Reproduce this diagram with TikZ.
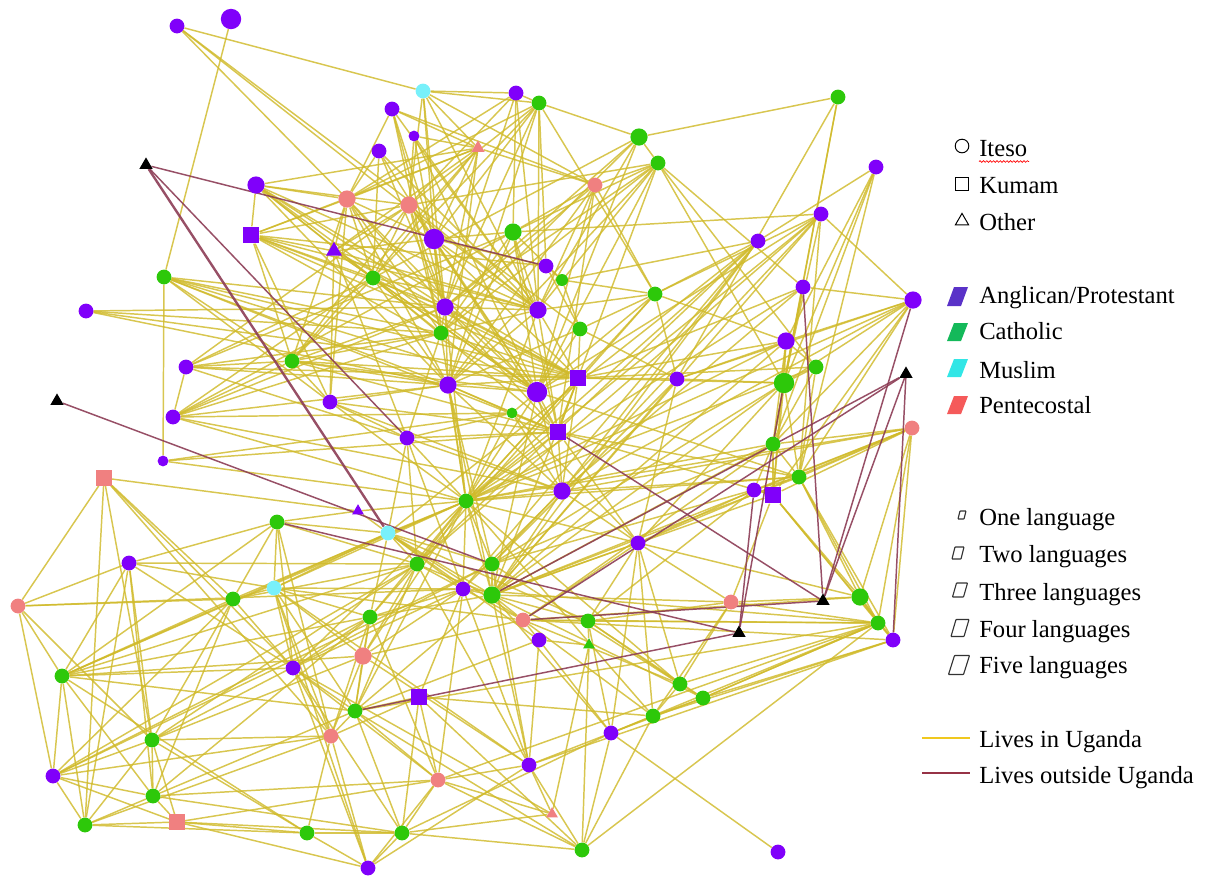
\documentclass[tikz,border=0pt]{standalone}
\usepackage{fontspec}
\setmainfont{Liberation Serif}
\usetikzlibrary{shapes.geometric,decorations.pathmorphing}
\definecolor{purp}{RGB}{128,0,250}
\definecolor{grn}{RGB}{45,200,10}
\definecolor{cyn}{RGB}{120,240,250}
\definecolor{pnk}{RGB}{240,128,128}
\definecolor{edgeY}{RGB}{208,186,42}
\definecolor{edgeM}{RGB}{140,60,85}
\definecolor{legY}{RGB}{240,200,30}
\definecolor{legM}{RGB}{150,50,70}
\definecolor{swP}{RGB}{90,50,200}
\definecolor{swG}{RGB}{20,185,90}
\definecolor{swC}{RGB}{50,230,230}
\definecolor{swR}{RGB}{245,90,90}
\pgfdeclarelayer{edges}
\pgfsetlayers{edges,main}
\tikzset{
  dot/.style={circle,inner sep=0pt,draw=none},
  sm/.style={dot,minimum size=0.27cm},
  md/.style={dot,minimum size=0.37cm},
  lg/.style={dot,minimum size=0.43cm},
  xl/.style={dot,minimum size=0.51cm},
  sqr/.style={rectangle,inner sep=0pt,draw=none,minimum size=0.42cm},
  tri/.style={regular polygon,regular polygon sides=3,inner sep=0pt,draw=none,minimum size=0.46cm},
  stri/.style={tri,minimum size=0.38cm},
  ye/.style={draw=edgeY,line width=1.05pt,opacity=0.82},
  me/.style={draw=edgeM,line width=1.05pt,opacity=0.9},
  lab/.style={anchor=base west,inner sep=0pt,font=\fontsize{17.5}{20}\selectfont},
  keyshape/.style={draw=black,line width=0.7pt,inner sep=0pt},
  langkey/.style={draw=black!80,line width=0.8pt,rounded corners=0.4pt},
}
\begin{document}
\begin{tikzpicture}[x=0.025cm,y=-0.025cm]
\useasboundingbox (0,0) rectangle (1216,876);

% ---- people ----
\node[md,fill=purp] (n1) at (177,26) {};
\node[xl,fill=purp] (n2) at (231,19) {};
\node[md,fill=cyn] (n3) at (423,91) {};
\node[md,fill=purp] (n4) at (392,109) {};
\node[sm,fill=purp] (n5) at (414,136) {};
\node[md,fill=purp] (n6) at (379,151) {};
\node[md,fill=purp] (n7) at (516,93) {};
\node[md,fill=grn] (n8) at (539,103) {};
\node[stri,fill=pnk] (n9) at (478,148) {};
\node[lg,fill=grn] (n10) at (639,137) {};
\node[md,fill=grn] (n11) at (658,163) {};
\node[md,fill=grn] (n12) at (838,97) {};
\node[md,fill=purp] (n13) at (876,167) {};
\node[md,fill=pnk] (n14) at (595,185) {};
\node[stri,fill=black] (n15) at (146,165) {};
\node[lg,fill=purp] (n16) at (256,185) {};
\node[lg,fill=pnk] (n17) at (347,199) {};
\node[lg,fill=pnk] (n18) at (409,205) {};
\node[sqr,fill=purp] (n19) at (251,235) {};
\node[tri,fill=purp] (n20) at (334,251) {};
\node[xl,fill=purp] (n21) at (434,239) {};
\node[lg,fill=grn] (n22) at (513,232) {};
\node[md,fill=purp] (n23) at (546,266) {};
\node[sm,fill=grn,minimum size=0.3cm] (n24) at (562,280) {};
\node[md,fill=purp] (n25) at (758,241) {};
\node[md,fill=purp] (n26) at (821,214) {};
\node[md,fill=grn] (n27) at (164,277) {};
\node[md,fill=grn] (n28) at (373,278) {};
\node[lg,fill=purp] (n29) at (445,307) {};
\node[lg,fill=purp] (n30) at (538,310) {};
\node[md,fill=grn] (n31) at (441,333) {};
\node[md,fill=grn] (n32) at (580,329) {};
\node[md,fill=grn] (n33) at (655,294) {};
\node[md,fill=purp] (n34) at (803,287) {};
\node[lg,fill=purp] (n35) at (913,300) {};
\node[md,fill=purp] (n36) at (86,311) {};
\node[md,fill=grn] (n37) at (292,361) {};
\node[md,fill=purp] (n38) at (186,367) {};
\node[md,fill=purp] (n39) at (330,402) {};
\node[lg,fill=purp] (n40) at (448,385) {};
\node[xl,fill=purp] (n41) at (537,392) {};
\node[sqr,fill=purp] (n42) at (578,378) {};
\node[md,fill=purp] (n43) at (677,379) {};
\node[lg,fill=purp] (n44) at (786,341) {};
\node[md,fill=grn] (n45) at (816,367) {};
\node[xl,fill=grn] (n46) at (784,383) {};
\node[stri,fill=black] (n47) at (906,374) {};
\node[stri,fill=black] (n48) at (57,401) {};
\node[md,fill=purp] (n49) at (173,417) {};
\node[sm,fill=purp] (n50) at (163,461) {};
\node[md,fill=purp] (n51) at (407,438) {};
\node[sm,fill=grn] (n52) at (512,413) {};
\node[sqr,fill=purp] (n53) at (558,432) {};
\node[md,fill=grn] (n54) at (773,444) {};
\node[md,fill=pnk] (n55) at (912,428) {};
\node[sqr,fill=pnk,minimum size=0.38cm] (n56) at (104,478) {};
\node[lg,fill=purp] (n57) at (562,491) {};
\node[md,fill=grn] (n58) at (799,477) {};
\node[md,fill=purp] (n59) at (754,490) {};
\node[sqr,fill=purp] (n60) at (773,495) {};
\node[stri,fill=purp,minimum size=0.34cm] (n61) at (358,511) {};
\node[md,fill=grn] (n62) at (466,501) {};
\node[md,fill=cyn] (n63) at (388,533) {};
\node[md,fill=grn] (n64) at (277,522) {};
\node[md,fill=purp] (n65) at (638,543) {};
\node[md,fill=purp] (n66) at (129,563) {};
\node[md,fill=pnk] (n67) at (18,606) {};
\node[md,fill=cyn] (n68) at (274,588) {};
\node[md,fill=grn] (n69) at (233,599) {};
\node[md,fill=grn] (n70) at (417,564) {};
\node[md,fill=purp] (n71) at (463,589) {};
\node[lg,fill=grn] (n72) at (492,595) {};
\node[md,fill=pnk] (n73) at (523,620) {};
\node[md,fill=grn] (n74) at (588,621) {};
\node[stri,fill=grn,minimum size=0.34cm] (n75) at (589,645) {};
\node[md,fill=purp] (n76) at (539,640) {};
\node[md,fill=pnk] (n77) at (731,602) {};
\node[stri,fill=black] (n78) at (823,601) {};
\node[stri,fill=black] (n79) at (739,633) {};
\node[lg,fill=grn] (n80) at (860,597) {};
\node[md,fill=grn] (n81) at (878,623) {};
\node[md,fill=purp] (n82) at (893,640) {};
\node[md,fill=grn] (n83) at (370,617) {};
\node[lg,fill=pnk] (n84) at (363,656) {};
\node[md,fill=purp] (n85) at (293,668) {};
\node[md,fill=grn] (n86) at (62,676) {};
\node[sqr,fill=purp,minimum size=0.38cm] (n87) at (419,697) {};
\node[md,fill=grn] (n88) at (355,711) {};
\node[md,fill=pnk] (n89) at (331,736) {};
\node[md,fill=grn] (n90) at (152,740) {};
\node[md,fill=purp] (n91) at (53,776) {};
\node[md,fill=grn] (n92) at (153,796) {};
\node[md,fill=grn] (n93) at (85,825) {};
\node[sqr,fill=pnk,minimum size=0.38cm] (n94) at (177,822) {};
\node[md,fill=grn] (n95) at (307,833) {};
\node[md,fill=purp] (n96) at (368,868) {};
\node[md,fill=grn] (n97) at (402,833) {};
\node[md,fill=pnk] (n98) at (438,780) {};
\node[md,fill=purp] (n99) at (529,765) {};
\node[stri,fill=pnk,minimum size=0.34cm] (n100) at (552,814) {};
\node[md,fill=grn] (n101) at (582,850) {};
\node[md,fill=purp] (n102) at (611,733) {};
\node[md,fill=grn] (n103) at (653,716) {};
\node[md,fill=grn] (n104) at (680,684) {};
\node[md,fill=grn] (n105) at (703,698) {};
\node[md,fill=purp] (n106) at (778,852) {};
\node[md,fill=grn] (n107) at (492,564) {};

% ---- ties ----
\begin{pgfonlayer}{edges}
\foreach \a/\b in {
1/3,1/30,1/32,1/41,2/27,
3/7,3/8,3/9,3/18,3/21,3/29,3/14,3/30,
4/9,4/17,4/14,4/31,4/21,4/29,4/30,
5/18,5/9,5/30,5/41,5/29,
6/17,6/21,6/28,6/29,6/30,
7/8,7/17,7/18,7/22,7/29,7/30,
8/10,8/17,8/18,8/21,8/28,8/29,8/30,8/23,8/33,8/40,
9/16,9/17,9/19,9/20,9/21,9/28,9/29,9/14,9/37,9/40,
10/12,10/11,10/31,10/28,10/41,10/30,10/29,
11/14,11/22,11/30,11/31,11/34,11/46,11/45,11/29,11/40,11/18,11/41,11/53,
12/43,12/46,12/54,13/25,13/46,13/54,13/58,13/44,
14/22,14/30,14/41,14/33,14/40,14/29,14/53,
16/17,16/18,16/19,16/29,16/31,16/41,16/28,16/30,16/40,16/42,
17/19,17/20,17/21,17/28,17/37,17/39,17/29,17/31,17/40,
18/19,18/20,18/28,18/29,18/21,18/37,18/38,18/30,18/41,18/31,
19/20,19/28,19/29,19/23,19/39,19/37,19/30,19/41,19/42,
20/21,20/28,20/30,20/39,20/51,20/41,20/42,
21/22,21/23,21/29,21/30,21/31,21/41,21/53,21/42,
22/30,22/24,22/31,22/38,22/49,22/26,22/41,22/40,22/53,
23/24,23/32,24/32,24/33,24/25,
25/33,25/62,25/72,25/70,25/57,25/63,25/71,
26/33,26/62,26/107,26/41,26/70,26/72,26/58,26/46,
27/29,27/31,27/50,27/42,27/37,27/39,27/40,27/41,27/53,
28/38,28/37,28/49,28/41,28/40,28/30,28/42,28/53,
29/30,29/31,29/40,29/41,29/42,29/37,29/53,29/62,
30/31,30/40,30/42,30/53,30/33,30/62,
31/37,31/38,31/49,31/51,31/42,31/62,
32/33,32/42,32/43,32/41,32/40,
33/41,33/43,33/44,33/62,33/70,
34/42,34/35,34/62,34/57,34/46,34/54,
35/46,35/54,35/43,35/44,35/26,35/62,35/57,35/58,35/60,
36/31,36/40,36/29,36/42,
37/39,37/38,37/49,37/41,37/40,37/53,37/42,
38/49,38/42,38/51,38/40,
39/40,39/51,39/62,39/53,39/57,
40/41,40/52,40/53,40/57,40/42,40/107,40/62,40/72,
41/42,41/52,41/53,41/57,41/58,41/62,41/72,
42/43,42/53,42/44,42/46,42/45,42/57,42/62,42/72,
43/46,43/44,43/65,43/72,43/107,
44/46,44/45,44/54,44/60,44/62,44/72,
45/46,45/54,45/58,45/62,
46/54,46/58,46/60,46/72,46/107,46/65,
49/52,49/57,49/29,49/40,49/62,
50/53,50/52,50/62,
51/53,51/57,51/62,51/63,51/70,51/52,51/71,
52/53,52/57,52/62,52/65,
53/57,53/65,53/62,53/58,53/60,
54/58,54/60,54/59,54/62,54/72,54/107,54/73,
55/58,55/59,55/60,55/57,55/65,55/82,55/80,55/81,55/62,55/72,55/54,
56/67,56/93,56/90,56/89,56/61,56/69,56/85,
57/58,57/65,57/62,57/72,57/71,
58/62,58/72,58/107,58/80,58/81,58/82,
59/65,59/60,59/74,
60/80,60/81,60/82,60/77,60/72,
61/63,61/64,61/62,
62/63,62/70,62/72,62/68,62/69,62/107,62/71,62/83,62/84,62/85,62/88,
63/64,63/68,63/70,63/72,63/107,63/71,63/83,63/73,63/74,63/76,
64/66,64/68,64/69,64/85,64/86,64/89,64/70,
65/72,65/73,65/74,65/77,65/103,65/104,65/102,
66/67,66/68,66/86,66/92,66/90,66/70,66/85,66/93,
67/86,67/91,67/90,67/69,67/71,
68/69,68/83,68/84,68/85,68/88,68/89,68/71,68/73,68/96,68/99,
69/86,69/70,69/85,69/90,69/91,69/92,
70/71,70/72,70/83,70/84,70/88,70/90,70/91,
71/72,71/73,71/83,71/84,71/85,71/87,71/98,71/99,
72/73,72/74,72/77,72/107,72/83,72/88,72/102,72/105,
73/74,73/76,73/84,73/103,73/104,
74/75,74/77,74/104,74/105,74/102,
75/76,75/101,75/100,
76/99,76/102,76/88,
77/80,77/81,77/103,77/104,
80/81,80/82,80/73,80/62,
81/82,81/104,81/105,81/101,81/102,81/98,81/73,81/74,81/88,81/71,
82/103,82/105,82/99,82/73,
83/84,83/85,83/86,83/88,83/89,83/92,83/98,
84/86,84/88,84/89,84/90,84/99,
85/86,85/89,85/96,85/97,85/88,85/98,85/100,
86/88,86/91,86/93,86/95,86/92,86/63,86/70,86/62,
87/88,87/89,87/101,87/97,87/98,87/103,
88/89,88/98,88/92,88/97,88/101,
89/93,89/90,89/91,89/96,89/95,
90/91,90/92,90/93,90/94,90/95,90/107,
91/92,91/93,91/94,91/107,91/83,
92/94,92/93,92/97,92/98,
93/94,93/95,
94/95,94/96,94/98,94/97,
95/96,95/97,
96/97,96/98,96/99,
97/101,97/98,97/100,97/102,
98/100,98/101,98/99,
99/100,99/101,99/102,99/70,99/72,99/107,
101/102,101/103,
102/103,102/106,102/105,
103/104,103/105,103/62,
104/105,104/107,104/62,
105/81}
  \draw[ye] (n\a) -- (n\b);
% ties to people living outside Uganda
\foreach \a/\b in {15/23,15/51,48/107,64/79,88/79,53/78,47/72,47/73,47/78,47/82,
                   34/78,35/78,73/78,59/79,46/79}
  \draw[me] (n\a) -- (n\b);
\draw[me,line width=1.7pt] (n15) -- (n63);
\end{pgfonlayer}

% ---- legend: ethnicity ----
\node[keyshape,circle,minimum size=0.34cm] (kIteso) at (962,146) {};
\node[lab] (tIteso) at (979,156) {Iteso};
\draw[red,line width=0.5pt,decorate,decoration={snake,amplitude=0.6pt,segment length=2.4pt}]
  (tIteso.south west) ++(0,5) -- ++(50,0);
\node[keyshape,rectangle,minimum size=0.31cm] (kKumam) at (962,184) {};
\node[lab] (tKumam) at (979,193) {Kumam};
\node[keyshape,regular polygon,regular polygon sides=3,minimum size=0.38cm] (kOther) at (962,221) {};
\node[lab] (tOther) at (979,230) {Other};

% ---- legend: religion ----
\newcommand{\swatch}[3]{\fill[#1] (947,#3) -- (961,#3) -- (968,#2) -- (954,#2) -- cycle;}
\swatch{swP}{287}{306}
\node[lab] (tAng) at (979,303) {Anglican/Protestant};
\swatch{swG}{323}{341}
\node[lab] (tCat) at (979,339) {Catholic};
\swatch{swC}{359}{377}
\node[lab] (tMus) at (979,378) {Muslim};
\swatch{swR}{396}{414}
\node[lab] (tPen) at (979,413) {Pentecostal};

% ---- legend: languages ----
\newcommand{\langkey}[5]{\draw[langkey] (#1-#3/2-#5/2,#2+#4/2) -- (#1+#3/2-#5/2,#2+#4/2) -- (#1+#3/2+#5/2,#2-#4/2) -- (#1-#3/2+#5/2,#2-#4/2) -- cycle;}
\langkey{962}{515}{6}{8}{2}
\node[lab] (tOne) at (979,525) {One language};
\langkey{958}{553}{9}{12}{3}
\node[lab] (tTwo) at (979,562) {Two languages};
\langkey{960}{590}{11}{14}{4}
\node[lab] (tThree) at (979,600) {Three languages};
\langkey{960}{628}{13}{17}{5}
\node[lab] (tFour) at (979,637) {Four languages};
\langkey{959}{665}{15}{19}{6}
\node[lab] (tFive) at (979,673) {Five languages};

% ---- legend: residence ----
\coordinate (yA) at (922,738);
\coordinate (yB) at (970,738);
\draw[legY,line width=1.3pt] (yA) -- (yB);
\node[lab] (tIn) at (979,747) {Lives in Uganda};
\coordinate (mA) at (922,773);
\coordinate (mB) at (970,773);
\draw[legM,line width=1.3pt] (mA) -- (mB);
\node[lab] (tOut) at (979,783) {Lives outside Uganda};
\end{tikzpicture}
\end{document}
